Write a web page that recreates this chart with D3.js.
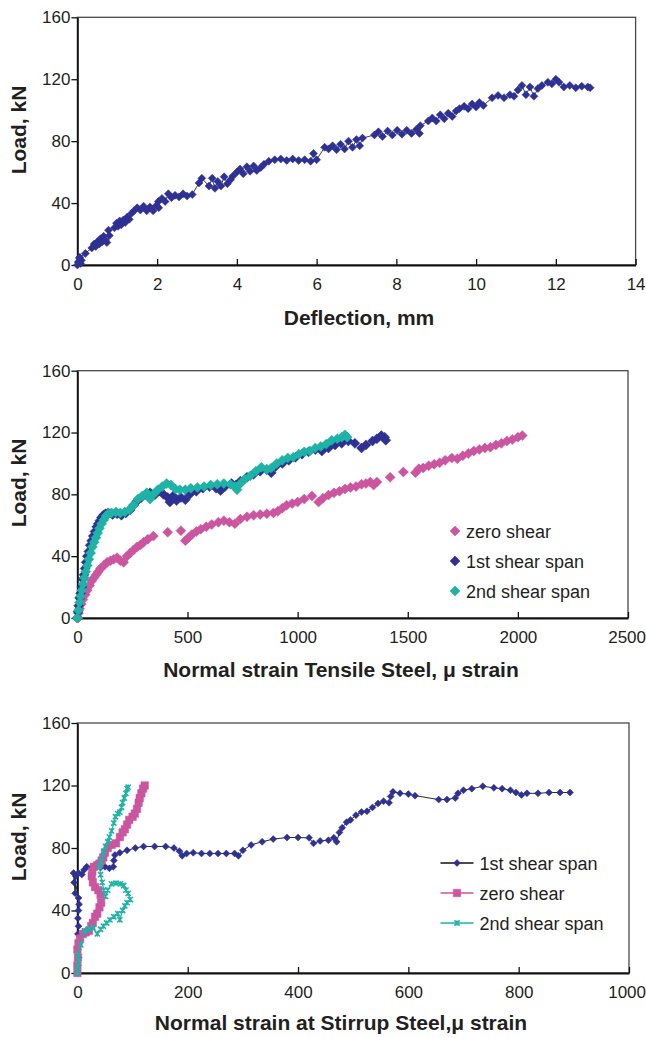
<!DOCTYPE html>
<html>
<head>
<meta charset="utf-8">
<script src="https://cdn.jsdelivr.net/npm/d3@7"></script>
<style>
  body { margin: 0; background: #fff; }
  svg text { font-family: "Liberation Sans", Arial, sans-serif; fill: #231f20; }
</style>
</head>
<body>
<div class="chart"></div>
<script>
// ---- data ----
var yTicks = [0, 40, 80, 120, 160];

// panel 1: load vs deflection (mm, kN)
var deflTicks = [0, 2, 4, 6, 8, 10, 12, 14];
var deflection = [
  [0,0],[0.02,2],[0.05,4.5],[0.08,1],[0.1,3],[0.06,5],[0.2,7.5],
  [0.36,11],[0.42,13.5],[0.46,12],[0.5,15],[0.55,13.5],[0.58,17],[0.62,15],[0.66,18.5],[0.7,16],[0.74,14.5],[0.8,19],[0.78,22.5],
  [0.93,24],[0.98,27],[1.02,25],[1.06,28.5],[1.1,26],[1.15,29],[1.2,27.5],[1.25,31],[1.3,29.5],[1.36,33.5],
  [1.42,35],[1.5,37],[1.58,35.5],[1.66,38],[1.74,35],[1.82,37.5],[1.9,35],[1.98,38.5],[2.04,37],[2.03,41],
  [2.12,43],[2.2,41],[2.28,46],[2.36,43.5],[2.45,45],[2.55,44],[2.65,46],[2.75,44.5],[2.88,45.5],
  [3.05,53],[3.12,56],
  [3.3,51],[3.38,56],[3.45,49.5],[3.52,54],[3.6,51],[3.68,57],[3.76,52.5],[3.84,55],[3.9,57.5],
  [4.0,60],[4.08,62],[4.16,59],[4.25,63.5],[4.33,60.5],[4.42,64],[4.5,61],[4.6,63],[4.68,65],
  [4.8,67],[4.95,68],[5.1,68.5],[5.25,67.5],[5.4,68.5],[5.55,67.5],[5.7,68],[5.85,67],[5.92,72],[6.0,68],
  [6.2,76],[6.3,75],[6.4,77],[6.5,74.5],[6.6,78],[6.7,75],[6.8,80],[6.9,76],[7.0,81],[7.08,77],[7.15,82],
  [7.45,84],[7.55,86],[7.65,83],[7.78,86.5],[7.9,84],[8.02,87],[8.14,84.5],[8.26,87],[8.38,85],[8.5,87.5],[8.58,85],[8.6,90],
  [8.8,93],[8.9,95],[9.0,93],[9.1,97],[9.2,94.5],[9.3,98],[9.4,96],[9.5,99.5],[9.58,101],
  [9.7,102.5],[9.8,101],[9.9,104],[10.0,102],[10.08,105],[10.18,103],
  [10.4,108],[10.55,109.5],[10.7,108],[10.85,110],[10.95,109],
  [11.05,113],[11.15,116],[11.25,110],[11.35,115],[11.45,109],[11.55,114],[11.65,116],
  [11.8,118],[11.9,117],[12.0,120],[12.08,118],
  [12.2,115],[12.35,116],[12.5,114.5],[12.65,115.5],[12.8,115],[12.86,114.5]
];

// panel 2: load vs tensile steel strain (micro strain, kN)
var tensileTicks = [0, 500, 1000, 1500, 2000, 2500];
var tensileZero = [
  [2,0],[5,3],[10,6],[18,9],[25,12],[35,15],[45,18],[55,21],[65,24],[75,26],[85,28],[95,30],[105,32],[120,34],
  [135,36],[150,37],[165,38],[180,39],[195,37],[210,36],[225,40],[240,42],[255,44],[270,46],[285,47],[300,49],
  [320,51],[345,53],[410,55.5],[470,56.5],[490,50],[505,52],[520,54],[540,56],[560,57.5],[585,59],[610,60.5],
  [640,62],[665,63],[690,62],[715,61],[740,64],[770,65.5],[800,66.5],[830,67],[860,67.5],[890,68],[910,69],
  [930,71],[950,73],[975,74],[1000,75],[1030,77],[1065,79],[1095,75],[1115,77.5],[1140,79.5],[1165,81],
  [1190,82],[1215,83.5],[1240,84.5],[1265,85],[1290,86.5],[1310,87],[1330,88],[1345,86],[1360,88],[1420,91],
  [1480,94.5],[1535,94],[1550,96.5],[1570,97],[1595,98.5],[1620,99.5],[1645,100.5],[1670,102],[1700,103.5],
  [1725,103],[1750,105],[1775,106.5],[1800,108],[1825,109],[1850,110],[1875,110.5],[1900,112],[1925,113],
  [1950,114.5],[1975,115.5],[2000,117],[2020,118]
];
var tensileFirst = [
  [0,0],[3,4],[6,8],[10,13],[15,16],[20,20],[25,25],[30,28],[35,32],[40,36],[45,40],[52,43],[58,47],[65,50],
  [72,53],[80,56],[88,59],[95,61],[102,63],[110,65],[118,66.5],[128,67.5],[140,68],[160,67],[180,67.5],[200,66.5],
  [220,68],[240,70],[255,73],[270,75.5],[290,78],[310,80],[330,81],[350,79.5],[370,82],[390,80],[410,78],[420,75],
  [435,79],[450,76],[470,78],[490,76.5],[510,80],[540,82],[570,84],[600,85],[630,84],[650,82.5],[670,85],[700,87],
  [720,86],[740,88.5],[770,91],[800,93],[830,95],[860,96],[880,94],[900,98],[930,100],[960,102],[990,104],
  [1020,106],[1050,107.5],[1080,109],[1110,108],[1140,110],[1170,112],[1200,113],[1230,114.5],[1260,113],
  [1290,110],[1310,112],[1340,114.5],[1360,116],[1380,118],[1395,117],[1400,115]
];
var tensileSecond = [
  [0,0],[5,5],[10,10],[15,14],[20,18],[26,22],[32,26],[38,30],[45,34],[52,38],[60,42],[68,46],[76,49],[84,52],
  [92,55],[100,58],[110,61],[120,63.5],[130,66],[140,67.5],[155,68],[175,68.5],[195,68],[215,68.5],[235,70],
  [255,73],[275,77],[295,79],[315,81],[330,77],[345,80],[365,83],[385,85],[405,87],[425,86],[445,83.5],[465,83],
  [490,83],[515,84],[545,84.5],[575,85],[605,86],[635,86.5],[665,87],[695,86.5],[715,85],[725,83],[740,87],
  [760,90],[785,92],[810,95],[835,97.5],[860,96],[880,97],[905,100],[930,102],[955,103.5],[980,104],[1005,106],
  [1030,107.5],[1055,108],[1080,110],[1105,111],[1130,112.5],[1155,115],[1180,116],[1200,117],[1215,118.5],[1225,117]
];

// panel 3: load vs stirrup steel strain (micro strain, kN)
var stirrupTicks = [0, 200, 400, 600, 800, 1000];
var stirrupFirst = [
  [0,0],[1,5],[2,10],[1,15],[2,20],[1,25],[2,30],[1,35],[2,40],[3,44],[2,48],[-7,64],[-6,58],[-4,51],[-3,62],
  [2,64],[8,63],[12,66],[17,68],[25,67],[33,68],[42,67.5],[50,68],[58,67],[65,68],[66,72],[68,75.5],[77,77],
  [90,78.5],[105,80],[120,81],[140,81],[160,81],[175,80],[185,78],[190,75],[198,76.5],[210,77],[225,76.5],
  [240,76.5],[255,76.5],[270,76.5],[285,76.5],[292,75],[300,78.5],[315,82],[335,84],[355,85.7],[380,86.7],
  [400,86.7],[420,86.5],[428,83],[440,84.5],[455,85],[465,86.5],[470,84],[475,90],[480,93],[488,96.5],[495,98],
  [505,101],[515,103],[525,103.5],[535,106],[545,108.5],[555,110],[565,109],[568,113],[572,116],[585,115],
  [600,114.5],[612,113.5],[655,111],[670,111],[685,112],[690,115],[700,117],[715,118],[735,119.5],[755,118.5],
  [770,118],[785,117],[795,115.5],[805,114],[815,115],[835,115],[855,115.5],[875,115.5],[893,115.5]
];
var stirrupZero = [
  [0,0],[0,5],[1,10],[0,15],[2,19],[5,22],[10,25],[15,26],[21,27],[25,30],[28,32],[32,36],[36,38],[40,42],
  [43,45],[42,50],[38,53],[32,55],[28,58],[26,62],[27,65],[30,68],[36,69],[40,70],[44,72],[47,74],[50,77],
  [55,80],[62,82],[70,83],[77,87],[82,90],[86,92],[90,95],[94,98],[100,100],[104,102],[108,105],[111,109],
  [113,112],[116,115],[119,118],[122,120]
];
var stirrupSecond = [
  [0,0],[1,4],[2,8],[1,12],[6,18],[13,27],[20,28],[28,29],[36,25],[42,28],[47,30],[53,32],[59,34],[66,36],
  [73,38],[77,34],[82,40],[86,43],[90,45],[96,47],[92,51],[88,53],[84,56],[78,57],[70,57.5],[62,57],[55,53],
  [51,49],[48,53],[45,58],[42,63],[40,68],[42,71],[45,74],[48,78],[51,81],[55,84],[58,87],[62,91],[66,96],
  [69,100],[73,102],[77,103],[80,106],[82,109],[85,112],[88,115],[90,118],[92,119]
];

var navy = "#2e3192", magenta = "#cc559f", teal = "#1db3a6";

// ---- marker shapes ----
function diamond(w, h) {
  return "M0," + (-h / 2) + "L" + (w / 2) + ",0L0," + (h / 2) + "L" + (-w / 2) + ",0Z";
}
function square(s) {
  return "M" + (-s / 2) + "," + (-s / 2) + "h" + s + "v" + s + "h" + (-s) + "Z";
}
function cross(s) {
  return "M" + (-s) + "," + (-s) + "L" + s + "," + s + "M" + (-s) + "," + s + "L" + s + "," + (-s) + "M0," + (-s) + "L0," + s;
}

var svg = d3.select(".chart").append("svg")
  .attr("width", 646)
  .attr("height", 1038);

var panels = [
  {
    box: {left: 77.4, right: 635.6, top: 17.3, bottom: 265},
    xMax: 14, xTicks: deflTicks,
    xTitle: "Deflection, mm", xTitleX: 359, xTitleY: 325, yTitleY: 130,
    series: [
      {data: deflection, color: navy, line: "#111", lineW: 0.8, shape: diamond(8, 8), fill: true}
    ],
    legend: null
  },
  {
    box: {left: 77.4, right: 628, top: 370.7, bottom: 618},
    xMax: 2500, xTicks: tensileTicks,
    xTitle: "Normal strain Tensile Steel,  \u03bc strain", xTitleX: 341, xTitleY: 677, yTitleY: 483,
    series: [
      {name: "zero shear", data: tensileZero, color: magenta, line: null, shape: diamond(10, 10), fill: true},
      {name: "1st shear span", data: tensileFirst, color: navy, line: null, shape: diamond(10, 10), fill: true},
      {name: "2nd shear span", data: tensileSecond, color: teal, line: null, shape: diamond(10, 10), fill: true}
    ],
    legend: {x: 455, y: 531, gap: 30, lineLen: 0}
  },
  {
    box: {left: 77.4, right: 629, top: 723, bottom: 973},
    xMax: 1000, xTicks: stirrupTicks,
    xTitle: "Normal strain at Stirrup Steel,\u03bc strain", xTitleX: 341, xTitleY: 1030, yTitleY: 837,
    series: [
      {name: "1st shear span", data: stirrupFirst, color: navy, line: "#111", lineW: 0.9, shape: diamond(7, 7), fill: true},
      {name: "zero shear", data: stirrupZero, color: magenta, line: magenta, lineW: 1.2, shape: square(7.5), fill: true},
      {name: "2nd shear span", data: stirrupSecond, color: teal, line: teal, lineW: 1.2, shape: cross(2.6), fill: false}
    ],
    legend: {x: 457, y: 863, gap: 30, lineLen: 33}
  }
];

panels.forEach(function(p) {
  var b = p.box;
  var x = d3.scaleLinear().domain([0, p.xMax]).range([b.left, b.right]);
  var y = d3.scaleLinear().domain([0, 160]).range([b.bottom, b.top]);
  var g = svg.append("g");

  // plot frame
  g.append("rect")
    .attr("x", b.left).attr("y", b.top)
    .attr("width", b.right - b.left).attr("height", b.bottom - b.top)
    .attr("fill", "none").attr("stroke", "#4a4a4a").attr("stroke-width", 1.3);

  // axes
  var xAxis = g.append("g")
    .attr("transform", "translate(0," + b.bottom + ")")
    .call(d3.axisBottom(x).tickValues(p.xTicks).tickFormat(d3.format("d"))
      .tickSizeInner(-6).tickSizeOuter(0).tickPadding(13));
  var yAxis = g.append("g")
    .attr("transform", "translate(" + b.left + ",0)")
    .call(d3.axisLeft(y).tickValues(yTicks).tickFormat(d3.format("d"))
      .tickSizeInner(6).tickSizeOuter(0).tickPadding(1));
  [xAxis, yAxis].forEach(function(a) {
    a.select(".domain").attr("stroke", "#111").attr("stroke-width", 1.8);
    a.selectAll(".tick line").attr("stroke", "#111").attr("stroke-width", 1.3);
    a.selectAll(".tick text").attr("font-size", "17px").attr("font-family", null).style("fill", "#231f20");
  });
  // keep the last x label inside the page edge
  var lastX = d3.max(p.xTicks);
  xAxis.selectAll(".tick text")
    .filter(d => d === lastX)
    .each(function() {
      var half = this.getComputedTextLength() / 2;
      var over = x(lastX) + half - 645.5;
      if (over > 0) d3.select(this).attr("dx", -over);
    });

  // titles
  g.append("text")
    .attr("x", p.xTitleX).attr("y", p.xTitleY)
    .attr("text-anchor", "middle")
    .attr("font-size", "21px").attr("font-weight", "bold")
    .text(p.xTitle);
  g.append("text")
    .attr("transform", "translate(26," + p.yTitleY + ") rotate(-90)")
    .attr("text-anchor", "middle")
    .attr("font-size", "21px").attr("font-weight", "bold")
    .text("Load, kN");

  // series
  p.series.forEach(function(s) {
    if (s.line) {
      var line = d3.line().x(d => x(d[0])).y(d => y(d[1]));
      g.append("path")
        .attr("d", line(s.data))
        .attr("fill", "none")
        .attr("stroke", s.line)
        .attr("stroke-width", s.lineW);
    }
    g.selectAll(null)
      .data(s.data)
      .enter()
      .append("path")
      .attr("d", s.shape)
      .attr("transform", d => "translate(" + x(d[0]) + "," + y(d[1]) + ")")
      .attr("fill", s.fill ? s.color : "none")
      .attr("stroke", s.color)
      .attr("stroke-width", s.fill ? 0.5 : 1.5);
  });

  // legend
  if (p.legend) {
    var L = p.legend;
    p.series.forEach(function(s, i) {
      var ly = L.y + i * L.gap;
      if (L.lineLen) {
        g.append("line")
          .attr("x1", L.x - L.lineLen / 2).attr("x2", L.x + L.lineLen / 2)
          .attr("y1", ly).attr("y2", ly)
          .attr("stroke", s.line).attr("stroke-width", s.lineW + 0.4);
      }
      g.append("path")
        .attr("d", s.shape)
        .attr("transform", "translate(" + L.x + "," + ly + ")")
        .attr("fill", s.fill ? s.color : "none")
        .attr("stroke", s.color)
        .attr("stroke-width", s.fill ? 0.5 : 1.5);
      g.append("text")
        .attr("x", L.x + (L.lineLen ? L.lineLen / 2 + 6 : 11))
        .attr("y", ly + 6.5)
        .attr("font-size", "18px")
        .text(s.name);
    });
  }
});
</script>
</body>
</html>
